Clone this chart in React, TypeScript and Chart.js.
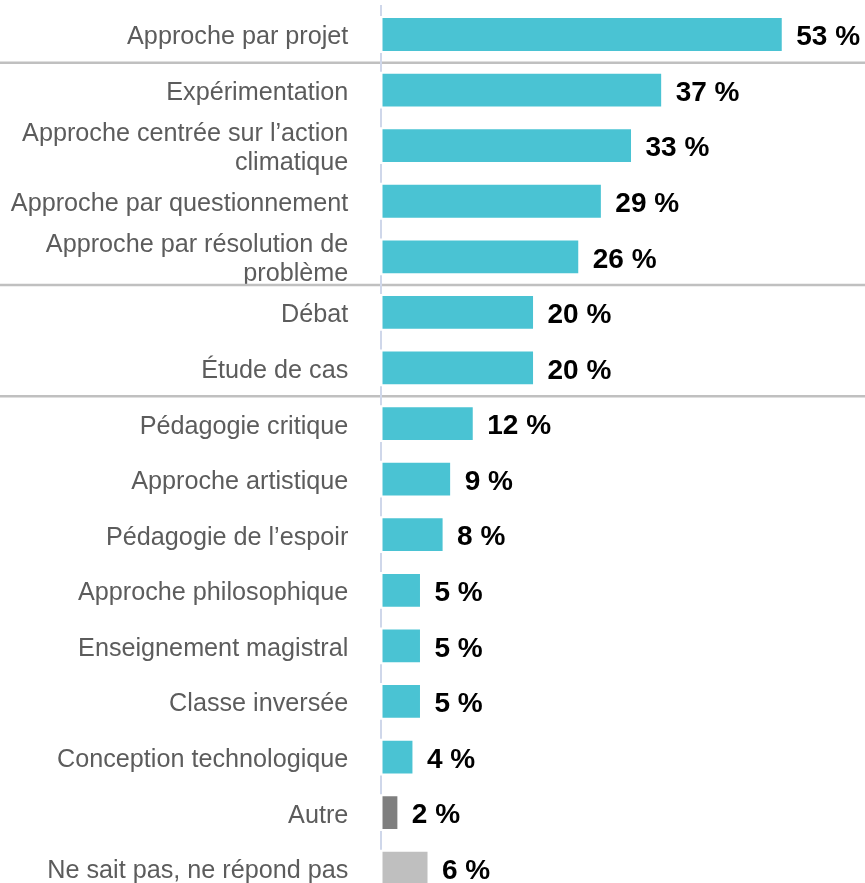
import React, { useEffect, useRef } from "react";
import { Chart, registerables } from "chart.js";

Chart.register(...registerables);

const categories: (string | string[])[] = [
  "Approche par projet",
  "Expérimentation",
  ["Approche centrée sur l’action", "climatique"],
  "Approche par questionnement",
  ["Approche par résolution de", "problème"],
  "Débat",
  "Étude de cas",
  "Pédagogie critique",
  "Approche artistique",
  "Pédagogie de l’espoir",
  "Approche philosophique",
  "Enseignement magistral",
  "Classe inversée",
  "Conception technologique",
  "Autre",
  "Ne sait pas, ne répond pas",
];

const values: number[] = [53, 37, 33, 29, 26, 20, 20, 12, 9, 8, 5, 5, 5, 4, 2, 6];

const valueLabels: string[] = values.map((v) => `${v} %`);

const TEAL = "#4AC3D3";
const barColors: string[] = values.map((_, i) =>
  i === values.length - 2 ? "#7f7f7f" : i === values.length - 1 ? "#bfbfbf" : TEAL
);

// indices after which a horizontal separator is drawn
const separatorsAfter: number[] = [0, 4, 6];

const FONT = "'Liberation Sans', Arial, sans-serif";

const overlayPlugin = {
  id: "overlay",
  beforeDatasetsDraw(chart: any) {
    const ctx = chart.ctx;
    const y = chart.scales.y;
    const meta = chart.getDatasetMeta(0);
    ctx.save();
    ctx.strokeStyle = "#c0c0c0";
    ctx.lineWidth = 2.5;
    separatorsAfter.forEach((i) => {
      const yy = (y.getPixelForValue(i) + y.getPixelForValue(i + 1)) / 2 + 0.5;
      ctx.beginPath();
      ctx.moveTo(0, yy);
      ctx.lineTo(chart.width, yy);
      ctx.stroke();
    });
    ctx.strokeStyle = "#cfd7ea";
    ctx.lineWidth = 2;
    const x = chart.chartArea.left - 1.3;
    let prevBottom = 5;
    meta.data.forEach((bar: any) => {
      const top = bar.y - bar.height / 2;
      ctx.beginPath();
      ctx.moveTo(x, prevBottom);
      ctx.lineTo(x, top - 2);
      ctx.stroke();
      prevBottom = bar.y + bar.height / 2 + 2;
    });
    ctx.restore();
  },
  afterDatasetsDraw(chart: any) {
    const ctx = chart.ctx;
    const meta = chart.getDatasetMeta(0);
    ctx.save();
    ctx.font = `bold 28px ${FONT}`;
    ctx.fillStyle = "#000000";
    ctx.textAlign = "left";
    ctx.textBaseline = "middle";
    meta.data.forEach((bar: any, i: number) => {
      ctx.fillText(valueLabels[i], bar.x + 14.5, bar.y + 3);
    });
    ctx.restore();
  },
};

export default function App() {
  const canvasRef = useRef<HTMLCanvasElement | null>(null);

  useEffect(() => {
    if (!canvasRef.current) return;
    const chart = new Chart(canvasRef.current, {
      type: "bar",
      data: {
        labels: categories,
        datasets: [
          {
            data: values,
            backgroundColor: barColors,
            borderWidth: 0,
            barPercentage: 0.59,
            categoryPercentage: 1,
          },
        ],
      },
      options: {
        indexAxis: "y",
        responsive: false,
        animation: false,
        devicePixelRatio: 1,
        layout: { autoPadding: false, padding: { top: 6.7, bottom: 0, left: 0, right: 32 } },
        plugins: {
          legend: { display: false },
          tooltip: { enabled: false },
        },
        scales: {
          x: {
            display: false,
            min: 0,
            max: 59.8,
          },
          y: {
            grid: { display: false, drawTicks: false },
            border: { display: false },
            ticks: {
              autoSkip: false,
              padding: 34,
              labelOffset: 3,
              color: "#5c5c5c",
              font: { family: FONT, size: 25.2, lineHeight: 1.16 },
            },
            afterFit: (scale: any) => {
              scale.width = 382.3;
              scale.paddingTop = 0;
              scale.paddingBottom = 0;
            },
          },
        },
      },
      plugins: [overlayPlugin],
    });
    return () => chart.destroy();
  }, []);

  return (
    <div
      style={{
        position: "fixed",
        top: 0,
        left: 0,
        width: 865,
        height: 883,
        overflow: "hidden",
        background: "#ffffff",
      }}
    >
      <canvas ref={canvasRef} width={865} height={896} style={{ display: "block" }} />
    </div>
  );
}
